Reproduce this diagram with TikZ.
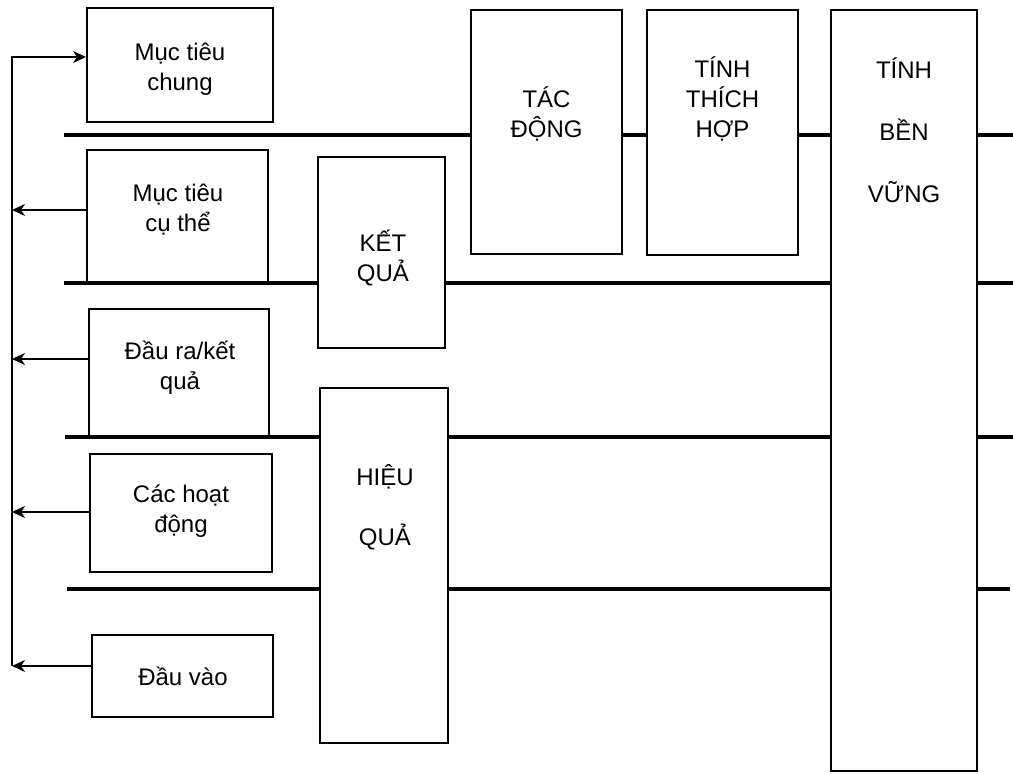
\documentclass[tikz,border=0pt]{standalone}
\usepackage{fontspec}
\setmainfont{Liberation Sans}
\usetikzlibrary{arrows.meta}

\begin{document}
\begin{tikzpicture}[
 x=0.5pt, y=-0.5pt,
 box/.style={rectangle, draw, line width=1pt, inner sep=0pt},
 txt/.style={align=center, inner sep=0pt, font=\fontsize{12}{15}\selectfont},
 rule/.style={line width=2pt},
 arrow/.style={-{Stealth[length=6.5pt, width=6pt, inset=2pt]}, line width=0.9pt}
 ]
 \useasboundingbox (0,0) rectangle (1013,775);
 % Left boxes
 \node[box, minimum width=93pt, minimum height=57pt] (mtc) at (180,65) {};
 \node[txt] (mtct) at (180,69) {Mục tiêu\\chung};
 \node[box, minimum width=90.5pt, minimum height=66.5pt] (mtcth) at (177.5,216.5) {};
 \node[txt] (mtctht) at (178,210) {Mục tiêu\\cụ thể};
 \node[box, minimum width=90pt, minimum height=64pt] (dr) at (179,373) {};
 \node[txt] (drt) at (180,368) {Đầu ra/kết\\quả};
 \node[box, minimum width=91pt, minimum height=59pt] (hd) at (181,513) {};
 \node[txt] (hdt) at (181,511) {Các hoạt\\động};
 \node[box, minimum width=90.5pt, minimum height=41pt] (dv) at (182.5,676) {};
 \node[txt] (dvt) at (183,676) {Đầu vào};
 % Middle boxes
 \node[box, minimum width=63.5pt, minimum height=95.5pt] (kq) at (381.5,252.5) {};
 \node[txt] (kqt) at (383,258) {KẾT\\QUẢ};
 \node[box, minimum width=64pt, minimum height=177.5pt] (hq) at (384,565.5) {};
 \node[txt] (hqt) at (385,507) {HIỆU\\[15pt]QUẢ};
 % Top boxes
 \node[box, minimum width=75.5pt, minimum height=122pt] (td) at (546.5,132) {};
 \node[txt] (tdt) at (546.5,114) {TÁC\\ĐỘNG};
 \node[box, minimum width=75.5pt, minimum height=122.5pt] (th) at (722.5,132.5) {};
 \node[txt] (tht) at (722.5,99) {TÍNH\\THÍCH\\HỢP};
 \node[box, minimum width=73pt, minimum height=380.5pt] (bv) at (904,390.5) {};
 \node[txt] (bvt) at (904,130) {TÍNH\\[16pt]BỀN\\[16pt]VỮNG};
 % Dividers
 \coordinate (l1) at (64,135);  \coordinate (r1) at (1013,135);
 \coordinate (l2) at (64,283);  \coordinate (r2) at (1013,283);
 \coordinate (l3) at (65,437);  \coordinate (r3) at (1013,437);
 \coordinate (l4) at (67,589);  \coordinate (r4) at (1010,589);
 \draw[rule] (l1) -- (td.west |- l1);
 \draw[rule] (td.east |- l1) -- (th.west |- l1);
 \draw[rule] (th.east |- l1) -- (bv.west |- l1);
 \draw[rule] (bv.east |- l1) -- (r1);
 \draw[rule] (l2) -- (kq.west |- l2);
 \draw[rule] (kq.east |- l2) -- (bv.west |- l2);
 \draw[rule] (bv.east |- l2) -- (r2);
 \draw[rule] (l3) -- (hq.west |- l3);
 \draw[rule] (hq.east |- l3) -- (bv.west |- l3);
 \draw[rule] (bv.east |- l3) -- (r3);
 \draw[rule] (l4) -- (hq.west |- l4);
 \draw[rule] (hq.east |- l4) -- (bv.west |- l4);
 \draw[rule] (bv.east |- l4) -- (r4);
 % Feedback arrows
 \coordinate (f1) at (12,57);
 \coordinate (f2) at (12,210);
 \coordinate (f3) at (12,359);
 \coordinate (f4) at (12,512);
 \coordinate (f5) at (12,666);
 \draw[arrow] (f5) -- (f1) -- (mtc.west |- f1);
 \draw[arrow] (mtcth.west |- f2) -- (f2);
 \draw[arrow] (dr.west |- f3) -- (f3);
 \draw[arrow] (hd.west |- f4) -- (f4);
 \draw[arrow] (dv.west |- f5) -- (f5);
\end{tikzpicture}
\end{document}
